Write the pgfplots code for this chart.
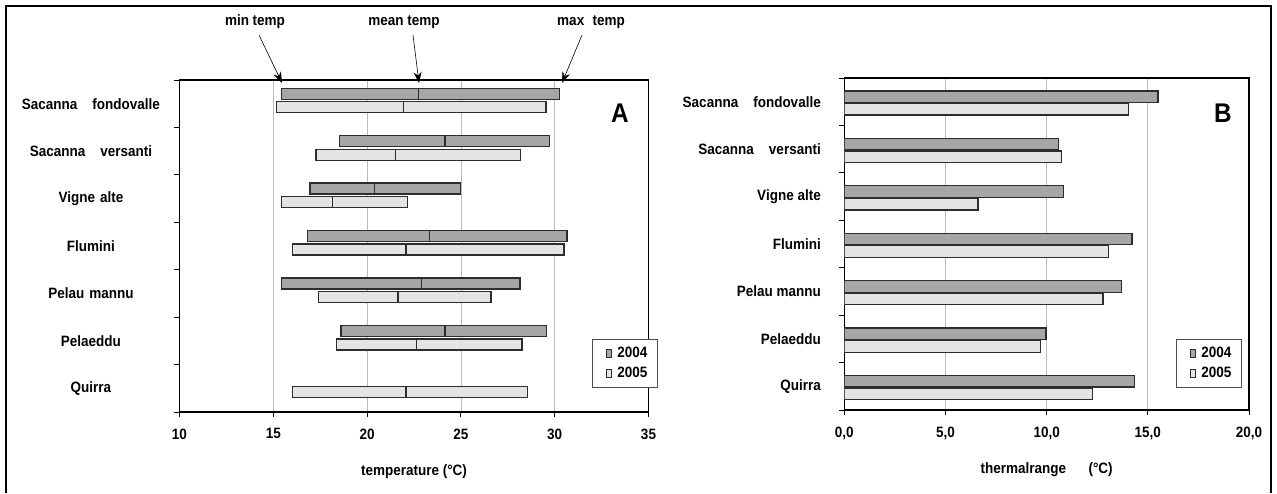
\documentclass[border=0pt]{standalone}
\usepackage{fontspec}
\setmainfont{Liberation Sans}[FakeStretch=0.9]
\usepackage{pgfplots}
\pgfplotsset{compat=1.18}
\usepackage{pgfplotstable}
\usetikzlibrary{arrows.meta}
\definecolor{cA}{RGB}{166,166,166}
\definecolor{cB}{RGB}{228,228,228}
\definecolor{edge}{RGB}{45,45,45}
\newcommand\f{\bfseries\fontsize{15}{17}\selectfont}

\pgfplotstableread{
pos lo mid hi
0 15.44 22.74 30.25
1 18.52 24.16 29.72
2 16.96 20.41 24.96
3 16.83 23.33 30.66
4 15.44 22.90 28.15
5 18.61 24.15 29.56
}\tA
\pgfplotstableread{
pos lo mid hi
0 15.18 21.94 29.54
1 17.28 21.53 28.17
2 15.44 18.17 22.17
3 16.01 22.08 30.50
4 17.40 21.65 26.60
5 18.38 22.65 28.26
6 16.01 22.08 28.56
}\tB
\pgfplotstableread{
pos r04 r05
0 15.50 14.05
1 10.60 10.72
2 10.84 6.60
3 14.22 13.04
4 13.70 12.78
5 9.96 9.69
6 14.34 12.28
}\tR

\pgfplotsset{
  base/.style={scale only axis, height=332pt, ymin=-0.5, ymax=6.5, y dir=reverse,
    ytick={0,...,6}, minor ytick={-0.5,0.5,...,6.5},
    tick align=outside, xtick pos=bottom, ytick pos=left,
    major tick length=5pt, minor tick length=5pt,
    major y tick style={draw=none}, minor y tick style={black, line width=1pt},
    major x tick style={black, line width=1pt},
    axis line style={line width=1.2pt},
    xmajorgrids, grid style={gray!55, line width=0.8pt},
    tick label style={font=\f}, label style={font=\f},
    every axis x label/.style={at={(axis description cs:0.5,0)}, anchor=center, yshift=-60pt, font=\f},
    xticklabel style={yshift=-8pt},
    legend style={draw=black!70, line width=0.8pt, font=\f, inner xsep=8pt, inner ysep=6pt, row sep=4pt, cells={anchor=west}},
  },
  leg04/.style={legend image code/.code={\draw[fill=cA,draw=edge,line width=0.7pt] (0pt,-4pt) rectangle (5pt,4pt); \path[draw=none,fill=none] (-6pt,0pt) rectangle (9pt,0pt);}},
  leg05/.style={legend image code/.code={\draw[fill=cB,draw=edge,line width=0.7pt] (0pt,-4pt) rectangle (5pt,4pt); \path[draw=none,fill=none] (-6pt,0pt) rectangle (9pt,0pt);}},
  barA/.style={fill=cA, draw=edge, line width=1.3pt},
  barB/.style={fill=cB, draw=edge, line width=1.3pt},
}

\begin{document}
\begin{tikzpicture}
\useasboundingbox (0pt,0pt) rectangle (1277pt,493pt);
\draw[line width=2pt] (6pt,0pt) -- (6pt,487pt) -- (1271pt,487pt) -- (1271pt,0pt);

% ---- panel A, 2004 ----
\begin{axis}[base, at={(179.5pt,81pt)}, anchor=south west, width=469pt,
  xmin=10, xmax=35, xtick={10,15,...,35}, xticklabels={10,15,20,25,30,35},
  xlabel={temperature (°C)},
  yticklabels={Sacanna\hspace{1em}fondovalle, Sacanna\hspace{1em}versanti, Vigne alte, Flumini, Pelau mannu, Pelaeddu, Quirra},
  yticklabel style={text width=160pt, align=center},
  xbar stacked, bar width=0.232,
  legend style={at={(axis description cs:0.8795,0.22)}, anchor=north west}]
\addplot[draw=none, fill=none, forget plot] table[x=lo, y expr=\thisrow{pos}-0.211]{\tA};
\addplot[barA, forget plot] table[x expr=\thisrow{mid}-\thisrow{lo}, y expr=\thisrow{pos}-0.211]{\tA};
\addplot[barA, forget plot] table[x expr=\thisrow{hi}-\thisrow{mid}, y expr=\thisrow{pos}-0.211]{\tA};
\addlegendimage{leg04}\addlegendentry{2004}
\addlegendimage{leg05}\addlegendentry{2005}
\end{axis}

% ---- panel A, 2005 ----
\begin{axis}[base, at={(179.5pt,81pt)}, anchor=south west, width=469pt,
  xmin=10, xmax=35, hide axis, xbar stacked, bar width=0.232]
\addplot[draw=none, fill=none, forget plot] table[x=lo, y expr=\thisrow{pos}+0.074]{\tB};
\addplot[barB, forget plot] table[x expr=\thisrow{mid}-\thisrow{lo}, y expr=\thisrow{pos}+0.074]{\tB};
\addplot[barB, forget plot] table[x expr=\thisrow{hi}-\thisrow{mid}, y expr=\thisrow{pos}+0.074]{\tB};
\end{axis}

% ---- panel B ----
\begin{axis}[base, at={(844.3pt,83pt)}, anchor=south west, width=404.7pt,
  xmin=0, xmax=20, xtick={0,5,...,20}, xticklabels={{0,0},{5,0},{10,0},{15,0},{20,0}},
  xlabel={thermalrange\hspace{1.5em}(°C)},
  yticklabels={Sacanna\hspace{1em}fondovalle, Sacanna\hspace{1em}versanti, Vigne alte, Flumini, Pelau mannu, Pelaeddu, Quirra},
  yticklabel style={xshift=-15pt},
  xbar, bar width=0.245,
  legend style={at={(axis description cs:0.8196,0.2137)}, anchor=north west}]
\addplot[barA, bar shift=0pt, forget plot] table[x=r04, y expr=\thisrow{pos}-0.105]{\tR};
\addplot[barB, bar shift=0pt, forget plot] table[x=r05, y expr=\thisrow{pos}+0.16]{\tR};
\addlegendimage{leg04}\addlegendentry{2004}
\addlegendimage{leg05}\addlegendentry{2005}
\end{axis}

\node[font=\bfseries\fontsize{27}{29}\selectfont] at (620pt,380pt) {A};
\node[font=\bfseries\fontsize{27}{29}\selectfont] at (1223pt,380pt) {B};
\node[font=\f] at (255pt,471pt) {min temp};
\node[font=\f] at (404pt,471pt) {mean temp};
\node[font=\f] at (591pt,471pt) {max\hspace{0.3em} temp};
\draw[line width=0.6pt, -{Stealth[length=11pt,width=8pt]}] (259pt,458pt) -- (282pt,410pt);
\draw[line width=0.6pt, -{Stealth[length=11pt,width=8pt]}] (413pt,458pt) -- (419pt,410pt);
\draw[line width=0.6pt, -{Stealth[length=11pt,width=8pt]}] (582pt,458pt) -- (562pt,410pt);
\end{tikzpicture}
\end{document}
